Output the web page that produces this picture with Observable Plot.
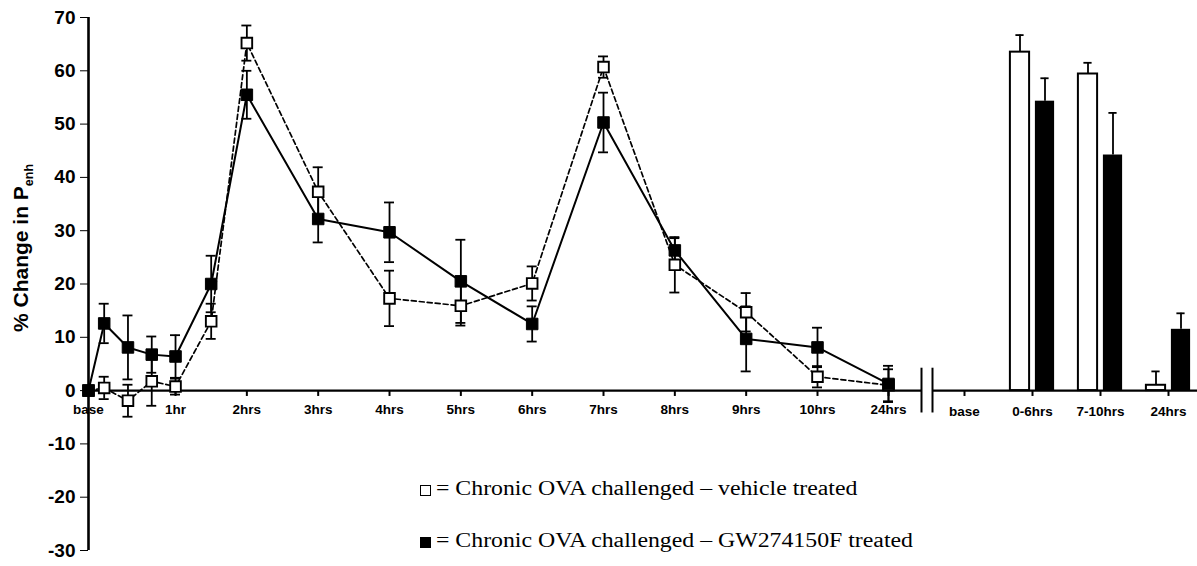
<!DOCTYPE html>
<html><head><meta charset="utf-8">
<script src="https://cdn.jsdelivr.net/npm/d3@7"></script>
<script src="https://cdn.jsdelivr.net/npm/@observablehq/plot@0.6"></script>
<style>
html,body{margin:0;padding:0;background:#fff;overflow:hidden;}
#wrap{position:relative;width:1197px;height:566px;overflow:hidden;}
#right{position:absolute;top:0;left:930px;width:275px;}
#left{position:absolute;top:0;left:0;width:935px;}
#ylab{position:absolute;left:0;top:0;}
.legend{position:absolute;font-family:"Liberation Serif","Times New Roman",serif;font-size:20px;line-height:22px;color:#000;white-space:nowrap;transform:scaleX(1.19);transform-origin:0 0;}
.sw{position:absolute;box-sizing:border-box;width:11px;height:11px;border:1.5px solid #000;}
</style></head>
<body><div id="wrap">
<div id="right"></div>
<div id="left"></div>
<svg id="ylab" width="50" height="566"><text transform="translate(28,248) rotate(-90)" text-anchor="middle" font-family="Liberation Sans, Arial, sans-serif" font-weight="bold" font-size="21">% Change in P<tspan font-size="12.5" dy="5">enh</tspan></text></svg>
<span class="sw" style="left:420px;top:485px;background:#fff"></span>
<div class="legend" style="left:436px;top:477px;">= Chronic OVA challenged – vehicle treated</div>
<span class="sw" style="left:420px;top:537px;background:#000"></span>
<div class="legend" style="left:436px;top:529px;">= Chronic OVA challenged – GW274150F treated</div>
</div>
<script>
// ---- data (time course) ----
const sampleTimes = ["base", 0, 1/3, 2/3, 1, 1.5, 2, 3, 4, 5, 6, 7, 8, 9, 10, 24];
const vehicleMean = [0, 0.5, -1.9, 1.75, 0.75, 13.0, 65.2, 37.3, 17.3, 15.9, 20.1, 60.7, 23.6, 14.7, 2.6, 1.0];
const vehicleSEM  = [0, 2.1, 3.0, 4.6, 1.5, 3.3, 3.3, 4.6, 5.2, 3.7, 3.2, 2.0, 5.2, 3.6, 2.0, 3.0];
const gwMean      = [0, 12.6, 8.1, 6.75, 6.4, 20.0, 55.5, 32.2, 29.7, 20.5, 12.5, 50.3, 26.3, 9.7, 8.1, 1.25];
const gwSEM       = [0, 3.7, 6.0, 3.4, 4.0, 5.3, 4.5, 4.4, 5.6, 7.8, 3.3, 5.6, 2.3, 6.1, 3.7, 3.4];

const tickTimes  = ["base", 1, 2, 3, 4, 5, 6, 7, 8, 9, 10, 24];
const tickLabels = ["base", "1hr", "2hrs", "3hrs", "4hrs", "5hrs", "6hrs", "7hrs", "8hrs", "9hrs", "10hrs", "24hrs"];

// ---- data (summary bars) ----
const barCats     = ["base", "0-6hrs", "7-10hrs", "24hrs"];
const barVehicle  = [null, 63.5, 59.4, 1.0];
const barVehSEM   = [null, 3.2, 2.1, 2.6];
const barGW       = [null, 54.3, 44.2, 11.5];
const barGWSEM    = [null, 4.3, 7.9, 3.0];

const yTicks = [-30, -20, -10, 0, 10, 20, 30, 40, 50, 60, 70];

// ---- axis layout constants ----
const AXIS_BASE = -0.22;       // where "base" sits on the broken time axis
const AXIS_BREAK = [24.5, 25]; // the two break marks after 24hrs
const pos = t => t === "base" ? AXIS_BASE : t;

const rows = (mean, sem, series) => sampleTimes.map((t, i) => ({t: pos(t), v: mean[i], e: sem[i], series}));
const veh = rows(vehicleMean, vehicleSEM, "veh");
const gw = rows(gwMean, gwSEM, "gw");
const errRows = [...veh, ...gw].filter(d => d.e > 0);

const yScale = {domain: [-30, 70], ticks: yTicks, tickSize: 8, tickPadding: 5, label: null, tickFormat: d => String(d)};
const font = {fontFamily: "Liberation Sans, Arial, sans-serif", fontSize: "19px", fontWeight: "bold", background: "none", overflow: "visible", maxWidth: "none"};

const left = Plot.plot({
  width: 935, height: 566,
  marginLeft: 88, marginRight: 14, marginTop: 17, marginBottom: 16,
  style: font,
  x: {type: "linear", domain: [AXIS_BASE, 10, 24, ...AXIS_BREAK], range: [88, 817, 888, 921, 932], axis: null},
  y: yScale,
  marks: [
    Plot.ruleY([0], {stroke: "#000", strokeWidth: 2.2}),
    Plot.ruleX([AXIS_BASE], {y1: -30, y2: 70, stroke: "#000", strokeWidth: 2.6}),
    Plot.ruleX(AXIS_BREAK, {y1: -4.2, y2: 4.2, stroke: "#000", strokeWidth: 2}),
    Plot.ruleX(tickTimes.slice(1), {x: d => d, y1: 0, y2: -1.1, stroke: "#000", strokeWidth: 2}),
    Plot.text(tickLabels, {x: (d, i) => pos(tickTimes[i]), y: 0, dy: 19, text: d => d, fontSize: 13.5, fontWeight: "bold"}),
    Plot.line(veh, {x: "t", y: "v", stroke: "#000", strokeWidth: 1.7, strokeDasharray: "5,3"}),
    Plot.line(gw, {x: "t", y: "v", stroke: "#000", strokeWidth: 2}),
    Plot.ruleX(errRows, {x: "t", y1: d => d.v - d.e, y2: d => d.v + d.e, stroke: "#000", strokeWidth: 1.8}),
    Plot.ruleY(errRows, {y: d => d.v + d.e, x1: "t", x2: "t", insetLeft: -5, insetRight: -5, stroke: "#000", strokeWidth: 1.8}),
    Plot.ruleY(errRows, {y: d => d.v - d.e, x1: "t", x2: "t", insetLeft: -5, insetRight: -5, stroke: "#000", strokeWidth: 1.8}),
    Plot.dot(veh, {x: "t", y: "v", symbol: "square", r: 6, fill: "#fff", stroke: "#000", strokeWidth: 1.9}),
    Plot.dot(gw, {x: "t", y: "v", symbol: "square", r: 6.5, fill: "#000", stroke: "#000", strokeWidth: 1})
  ]
});
document.getElementById("left").appendChild(left);

const barRows = (vals, sems, series) => barCats.map((c, i) => ({c, v: vals[i], e: sems[i], series})).filter(d => d.v != null);
const bVeh = barRows(barVehicle, barVehSEM, "veh");
const bGW = barRows(barGW, barGWSEM, "gw");
const OFF = 12.5, INSET = 24.4, CAP = 29.9;

const right = Plot.plot({
  width: 275, height: 566,
  marginLeft: 2, marginRight: 0, marginTop: 17, marginBottom: 16,
  style: font,
  x: {type: "band", domain: barCats, range: [-2, 273], padding: 0, axis: null},
  y: {...yScale, axis: null},
  marks: [
    Plot.barY(bVeh, {x: "c", y: "v", dx: -OFF, insetLeft: INSET, insetRight: INSET, fill: "#fff", stroke: "#000", strokeWidth: 2}),
    Plot.barY(bGW, {x: "c", y: "v", dx: OFF, insetLeft: INSET, insetRight: INSET, fill: "#000"}),
    Plot.ruleX(bVeh, {x: "c", y1: "v", y2: d => d.v + d.e, dx: -OFF, stroke: "#000", strokeWidth: 1.8}),
    Plot.ruleX(bGW, {x: "c", y1: "v", y2: d => d.v + d.e, dx: OFF, stroke: "#000", strokeWidth: 1.8}),
    Plot.tickY(bVeh, {x: "c", y: d => d.v + d.e, dx: -OFF, insetLeft: CAP, insetRight: CAP, stroke: "#000", strokeWidth: 1.8}),
    Plot.tickY(bGW, {x: "c", y: d => d.v + d.e, dx: OFF, insetLeft: CAP, insetRight: CAP, stroke: "#000", strokeWidth: 1.8}),
    Plot.ruleY([0], {stroke: "#000", strokeWidth: 2.2}),
    Plot.ruleX(barCats, {x: d => d, y1: 0, y2: -1.1, stroke: "#000", strokeWidth: 2}),
    Plot.text(barCats, {x: d => d, y: 0, dy: 21, text: d => d, fontSize: 13.5, fontWeight: "bold"})
  ]
});
document.getElementById("right").appendChild(right);
</script>
</body></html>
